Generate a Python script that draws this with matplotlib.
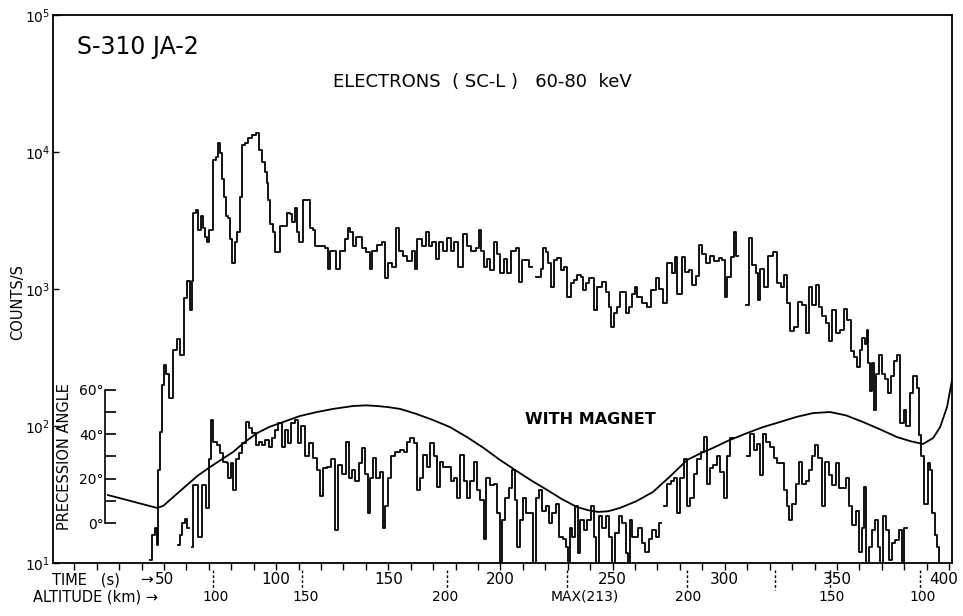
import numpy as np
import matplotlib.pyplot as plt
from matplotlib.ticker import NullLocator, FixedLocator

nan = np.nan

# electrons 60-80 keV, no magnet: start time of each level (s) and rate (counts/s)
top_t = [43.8, 44.6, 46.0, 46.9, 47.3, 48.2, 49.1, 50.0, 50.9, 52.2, 54.0, 55.8, 57.1, 58.9,
         60.2, 61.6, 62.5, 62.9, 64.3, 65.2, 66.5, 67.4, 68.3, 69.2, 70.1, 71.8, 73.2, 74.1,
         75.0, 75.9, 76.7, 77.6, 78.5, 79.4, 80.3, 81.6, 82.5, 83.9, 84.8, 86.1, 87.5, 89.3,
         91.0, 92.4, 93.7, 95.0, 95.9, 96.4, 97.3, 98.6, 99.5, 101.7, 104.8, 106.2, 107.1,
         108.4, 109.3, 110.2, 112.0, 115.1, 116.4, 117.3, 121.8, 123.1, 124.0, 126.7, 128.5,
         130.7, 132.0, 132.9, 134.3, 135.6, 138.3, 140.1, 141.8, 142.7, 145.0, 147.2, 148.5,
         149.9, 151.6, 153.4, 154.8, 156.5, 158.3, 160.6, 161.9, 162.8, 165.0, 166.8, 168.2,
         169.5, 171.3, 172.6, 174.4, 176.2, 178.0, 179.3, 181.1, 183.3, 185.1, 186.9, 189.1,
         190.4, 191.3, 192.7, 194.0, 195.4, 197.1, 198.5, 199.8, 201.6, 202.9, 204.7, 206.9,
         208.3, 209.6, 211.8, 212.7, 214.1, 215.9, 218.1, 219.0, 220.3, 221.2, 222.6, 223.9,
         225.2, 227.0, 228.4, 229.7, 231.5, 232.8, 234.2, 236.0, 236.9, 238.2, 239.6, 241.8,
         243.1, 245.3, 247.1, 248.4, 249.3, 250.6, 252.0, 253.3, 256.0, 257.3, 258.7, 260.0,
         260.9, 263.1, 265.4, 267.1, 269.4, 270.7, 272.5, 274.3, 276.5, 277.8, 278.7, 281.0,
         282.3, 284.1, 285.4, 287.2, 288.6, 289.9, 291.7, 293.5, 295.3, 297.5, 298.9, 300.2,
         301.1, 302.9, 304.2, 305.1, 306.0, 309.6, 310.9, 312.3, 314.1, 315.0, 315.9, 317.6,
         319.4, 321.6, 323.4, 325.2, 326.5, 327.8, 329.2, 330.9, 332.7, 334.5, 336.3, 337.6,
         339.0, 340.7, 342.0, 343.4, 345.2, 346.5, 347.9, 349.6, 351.4, 353.2, 354.5, 356.3,
         357.6, 359.0, 360.4, 361.3, 362.6, 363.5, 364.0, 364.9, 365.8, 366.7, 367.6, 368.9,
         370.3, 371.6, 372.9, 374.3, 375.6, 377.0, 378.3, 379.7, 381.0, 382.4, 383.7, 385.5,
         386.4, 387.7, 389.0, 390.4, 391.7, 392.6, 393.5, 394.8, 395.7]
top_c = [10.5, 16, 18, 13.5, 48, 90, 200, 280, 240, 160, 360, 430, 330, 860,
         1150, 700, 1150, 3600, 3800, 2700, 3400, 2800, 2400, 2200, 2700, 8800, 9200, 11700,
         9800, 6300, 4700, 3400, 3300, 2300, 1550, 2200, 2600, 4700, 11200, 11700, 12700, 13300,
         13800, 10300, 8500, 7200, 5900, 4500, 3000, 2600, 1850, 2900, 3600, 3500, 3100,
         3900, 2600, 2200, 4500, 2800, 2700, 2050, 2000, 1400, 1900, 1400, 1900,
         2300, 2800, 2600, 2050, 2400, 2000, 1850, 1400, 1900, 2100, 2200, 1200,
         1550, 1450, 2800, 1900, 1750, 1600, 1900, 1400, 2300, 2050, 2600, 2050,
         2200, 1650, 2200, 1900, 2350, 1900, 2200, 1450, 2500, 2050, 1900, 2000,
         2700, 1900, 1450, 1650, 1380, 2200, 1800, 1300, 1650, 1300, 1900, 2000,
         1120, 1630, 1630, 1450, nan, 1230, 1400, 2000, 1850, 1550, 1030, 1630,
         1670, 1380, 1450, 870, 1100, 1160, 1260, 1230, 980, 1100, 1200, 700,
         1030, 1120, 950, 740, 530, 670, 740, 950, 670, 740, 920, 1030,
         880, 790, 740, 980, 1200, 1000, 790, 1550, 1300, 1700, 920, 1700,
         1330, 1380, 1070, 1250, 2100, 1800, 1550, 1750, 1600, 1670, 1630, 870,
         1230, 1700, 2600, 1750, nan, 760, 2350, 1500, 1300, 830, 1400, 1030,
         1750, 1850, 1100, 1030, 1260, 790, 490, 530, 800, 760, 480, 1030,
         760, 1070, 740, 640, 560, 420, 700, 480, 500, 720, 590, 350,
         320, 270, 360, 440, 400, 500, 290, 180, 290, 130, 240, 330,
         240, 220, 175, 230, 300, 330, 105, 130, 100, 175, 230, 190,
         86, 60, 27, 54, 48, 23, 16, 13, 10]

# same channel with magnet
mag_t = [56.2, 57.1, 58.0, 59.3, 60.2, 61.1, 62.5, 62.9, 65.2, 66.9, 68.7, 70.1, 71.0, 71.8,
         73.6, 75.0, 76.3, 78.1, 78.5, 79.9, 80.7, 82.1, 83.4, 84.8, 86.6, 87.9, 89.3, 91.1,
         92.4, 93.7, 95.0, 96.8, 98.1, 99.5, 100.8, 102.6, 103.9, 105.3, 106.6, 108.4, 109.7,
         111.1, 112.8, 114.6, 116.4, 118.2, 119.5, 120.9, 122.7, 124.5, 126.3, 127.6, 129.4,
         131.2, 132.5, 133.8, 135.2, 136.9, 138.3, 139.6, 141.0, 141.8, 143.2, 144.5, 146.3,
         147.6, 148.5, 149.9, 151.2, 153.0, 155.2, 157.0, 158.3, 159.7, 161.4, 162.8, 164.1,
         165.5, 167.2, 168.6, 170.4, 171.7, 173.1, 174.4, 178.0, 179.3, 180.6, 182.0, 183.8,
         185.1, 186.4, 188.2, 189.5, 190.9, 192.7, 193.6, 195.4, 197.1, 198.5, 199.8, 200.7,
         202.0, 203.8, 205.1, 206.5, 207.4, 208.7, 210.1, 211.4, 214.5, 215.9, 217.2, 218.6,
         220.3, 221.7, 223.0, 224.8, 226.1, 227.9, 229.3, 230.2, 231.0, 231.9, 233.3, 234.6,
         235.5, 237.3, 238.6, 240.4, 241.8, 242.7, 244.0, 245.3, 247.1, 248.4, 249.8, 251.1,
         252.9, 254.2, 256.0, 256.9, 257.8, 258.7, 261.3, 263.1, 264.5, 266.3, 267.6, 269.4,
         270.7, 271.6, 272.9, 274.3, 276.0, 277.4, 278.7, 280.0, 281.8, 283.2, 284.5, 286.3,
         287.7, 289.4, 290.8, 292.1, 293.4, 294.8, 296.5, 297.9, 299.7, 301.0, 302.3, 304.2,
         309.9, 311.2, 313.0, 314.3, 315.7, 317.0, 318.4, 320.2, 322.0, 323.3, 326.4, 327.7,
         328.6, 330.0, 331.7, 333.1, 334.5, 336.3, 337.6, 339.0, 340.3, 341.7, 343.4, 344.7,
         346.5, 347.8, 349.6, 350.9, 354.0, 355.4, 356.7, 358.5, 359.9, 361.2, 362.1, 363.0,
         364.3, 365.7, 367.0, 368.3, 369.2, 370.6, 371.9, 373.3, 374.6, 376.0, 377.8, 379.1,
         380.0, 381.4]
mag_c = [13.5, 16, 19.5, 21, 18, nan, 13, 37, 15.5, 37, 25, 57, 110, 77,
         73, 63, 55, 54, 42, 54, 34, 57, 64, 75, 107, 96, 89, 73,
         76, 73, 79, 70, 82, 94, 105, 70, 94, 75, 105, 110, 75,
         100, 60, 75, 58, 48, 31, 49, 50, 57, 17.5, 52, 45,
         76, 42, 48, 40, 54, 69, 45, 23, 42, 58, 42, 46,
         18, 26, 42, 60, 65, 67, 65, 77, 82, 75, 34, 42,
         61, 50, 75, 60, 36, 55, 50, 40, 42, 30, 61, 40,
         30, 40, 55, 34, 29, 15, 42, 37, 38, 23, 10, 20.6,
         30, 35, 48, 29, 13, 20.6, 30, 23, 10, 30, 34, 24,
         26, 19.5, 23, 27, 15.5, 15, 13, 10, 18, 15.5, 26, 11.8,
         20.6, 17.5, 20.6, 26, 15.5, 10, 22, 18, 22, 15.5, 10, 16.5,
         22, 19.5, 11.8, 10, 20.6, 15.5, 18, 14, 12, 15, 17.5, 15.5,
         19.5, nan, 26, 38, 40, 42, 23, 42, 57, 26, 30, 45,
         57, 65, 83, 38, 49, 52, 60, 46, 30, 60, 82, nan,
         60, 88, 67, 74, 44, 88, 77, 70, 58, 54, 34, 26,
         20.6, 27, 38, 55, 38, 40, 48, 60, 73, 58, 26, 55,
         44, 37, 54, 35, 42, 26, 19, 24, 12, 18, 36, 10,
         13, 17.5, 20.6, 13, 10, 22, 17.5, 10.5, 14, 14.7, 17.5, 10,
         18, nan]

# rocket precession angle (degrees) vs time
prec_t = [25.0, 46.9, 49.6, 60.2, 65.0, 70.5, 75.6, 80.8, 86.0, 91.5, 97.0, 103.1, 110.6,
          118.2, 125.4, 134.3, 140.0, 145.0, 150.0, 155.2, 162.0, 169.9, 177.5, 185.1,
          192.2, 199.8, 206.5, 213.5, 220.8, 227.5, 234.1, 239.0, 243.5, 248.0, 253.3,
          260.5, 268.0, 275.6, 283.2, 289.0, 294.7, 302.0, 309.9, 317.0, 324.6, 332.0,
          339.3, 346.9, 354.0, 361.6, 369.0, 376.8, 383.0, 388.4, 392.9, 396.0, 399.1, 401.3]
prec_deg = [12.6, 6.8, 7.7, 17.1, 21.3, 25.2, 28.6, 32.0, 36.5, 40.5, 43.3, 45.5, 48.2,
            50.0, 51.4, 52.7, 53.0, 52.7, 52.2, 51.4, 49.3, 46.4, 43.2, 38.7,
            34.0, 28.4, 23.9, 19.3, 14.9, 10.7, 7.2, 5.8, 5.0, 5.3, 6.8,
            9.8, 14.0, 21.0, 28.4, 31.3, 33.8, 37.3, 40.5, 43.2, 45.5, 47.8,
            49.5, 50.0, 48.5, 45.5, 42.3, 38.7, 36.8, 35.6, 38.3, 43.2, 52.3, 64.4]

time_ticks = [50, 100, 150, 200, 250, 300, 350]
alt_marks = [71.8, 111.5, 176.2, 229.7, 283.2, 322.4, 346.9, 387.0]
alt_label_t = [73.2, 113.3, 175.3, 237.7, 283.6, 347.8, 388.4]
alt_labels = ["100", "150", "200", "MAX(213)", "200", "150", "100"]

W, H = 963, 616
fig = plt.figure(figsize=(W / 100, H / 100), dpi=100)
ax = fig.add_axes([53 / W, 1 - 563 / H, 899 / W, 548 / H])


def ftext(x, y, s, **kw):
    fig.text(x / W, 1 - y / H, s, **kw)


ax.step(top_t, top_c, where="post", color="black", lw=1.3)
ax.step(mag_t, mag_c, where="post", color="black", lw=1.3)

ax.set_yscale("log")
ax.set_ylim(10, 1e5)
ax.set_xlim(0.5, 401.3)
ax.yaxis.set_minor_locator(NullLocator())
ax.set_yticks([10, 100, 1000, 1e4, 1e5])
ax.tick_params(axis="y", direction="in", length=4, width=1, labelsize=10, pad=2,
               left=True, right=True)
ax.xaxis.set_major_locator(FixedLocator(np.arange(0, 401, 10)))
ax.tick_params(axis="x", direction="out", length=5, width=1, labelbottom=False)
for sp in ax.spines.values():
    sp.set_linewidth(1.3)

# time labels under the axis
xt = ax.get_xaxis_transform()
for t in time_ticks:
    ax.text(t, -0.031, str(t), transform=xt, ha="center", va="center", fontsize=11)
ax.text(397.5, -0.031, "400", transform=xt, ha="center", va="center", fontsize=11)
ax.text(42.0, -0.031, "\u2192", transform=xt, ha="center", va="center", fontsize=11)

# altitude markers and labels
for t in alt_marks:
    ax.plot([t, t], [-0.012, -0.05], transform=xt, color="black", lw=1,
            ls=(0, (2, 1.5)), clip_on=False)
for t, s in zip(alt_label_t, alt_labels):
    ax.text(t, -0.062, s, transform=xt, ha="center", va="center", fontsize=10)

ftext(52, 580, "TIME   (s)", ha="left", va="center", fontsize=10.5)
ftext(33, 597, "ALTITUDE (km) \u2192", ha="left", va="center", fontsize=10.5)
ftext(18, 302, "COUNTS/S", rotation=90, ha="center", va="center", fontsize=10.5)

ftext(77, 47, "S-310 JA-2", ha="left", va="center", fontsize=17)
ftext(482, 82, "ELECTRONS  ( SC-L )   60-80  keV", ha="center", va="center", fontsize=13)
ftext(590, 420, "WITH MAGNET", ha="center", va="center", fontsize=11.5, fontweight="bold")

# precession angle on its own scale
ax2 = ax.twinx()
ax2.set_ylim(-18.0, 228.8)
ax2.plot(prec_t, prec_deg, color="black", lw=1.3)
for k in ["top", "right", "bottom"]:
    ax2.spines[k].set_visible(False)
ax2.spines["left"].set_visible(True)
ax2.spines["left"].set_position(("data", 23.7))
ax2.spines["left"].set_bounds(0, 60)
ax2.spines["left"].set_linewidth(1.2)
ax2.yaxis.tick_left()
ax2.set_yticks(range(0, 61, 10))
ax2.set_yticklabels(["0\u00b0", "", "20\u00b0", "", "40\u00b0", "", "60\u00b0"])
ax2.tick_params(axis="y", direction="in", length=8, width=1.2, labelsize=10, pad=1)
ax2.text(5.8, 30, "PRECESSION ANGLE", rotation=90, ha="center", va="center", fontsize=10.5)

fig.savefig("out.png", dpi=100)
